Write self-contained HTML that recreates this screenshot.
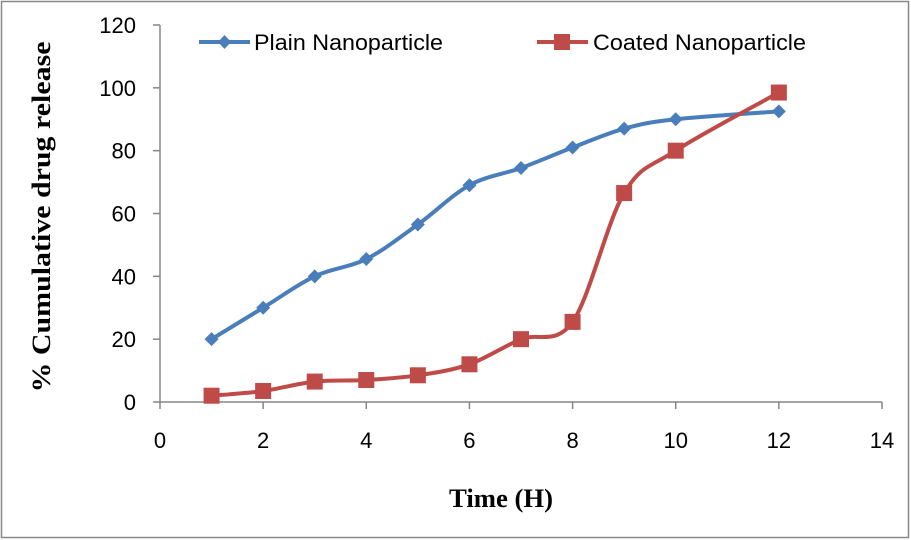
<!DOCTYPE html>
<html><head><meta charset="utf-8"><style>
body{margin:0;background:#fff;}
svg{display:block;font-family:"Liberation Sans",sans-serif;}
</style></head><body>
<svg id="chart" width="911" height="540">
<rect x="1.5" y="1.5" width="907" height="536" fill="#fff" stroke="#888" stroke-width="1.5"/>
<g id="axes"></g>
<g id="series"></g>
<text x="501" y="507" text-anchor="middle" font-family="Liberation Serif,serif" font-weight="bold" font-size="26" textLength="104" lengthAdjust="spacingAndGlyphs">Time (H)</text>
<text transform="translate(50,217) rotate(-90)" text-anchor="middle" font-family="Liberation Serif,serif" font-weight="bold" font-size="26" textLength="351" lengthAdjust="spacingAndGlyphs">% Cumulative drug release</text>
<g>
<line x1="199" y1="42" x2="250" y2="42" stroke="#4a7ebb" stroke-width="4"/>
<path d="M224.5 35 L231 42 L224.5 49 L218 42Z" fill="#4a7ebb"/>
<text x="254" y="50" font-size="22" textLength="189" lengthAdjust="spacingAndGlyphs" fill="#000">Plain Nanoparticle</text>
</g>
<g>
<line x1="537" y1="42" x2="588" y2="42" stroke="#be4b48" stroke-width="4"/>
<rect x="554" y="34" width="16" height="16" fill="#be4b48"/>
<text x="593" y="50" font-size="22" textLength="213" lengthAdjust="spacingAndGlyphs" fill="#000">Coated Nanoparticle</text>
</g>
</svg>
<script>
const xs=[1,2,3,4,5,6,7,8,9,10,12];
const plain=[20,30,40,45.5,56.5,69,74.5,81,87,90,92.5];
const coated=[2,3.5,6.5,7,8.5,12,20,25.5,66.5,80,98.5];
const xTicks=[0,2,4,6,8,10,12,14];
const yTicks=[0,20,40,60,80,100,120];
const NS="http://www.w3.org/2000/svg";
const X=v=>160+v*(722/14);
const Y=v=>402-v*(377/120);
function mk(t,a,p){const e=document.createElementNS(NS,t);for(const k in a)e.setAttribute(k,a[k]);p.appendChild(e);return e;}
const ax=document.getElementById('axes');
const xl=mk('line',{x1:X(0),y1:Y(0),x2:X(14),y2:Y(0),stroke:'#868686','stroke-width':1.5},ax);


const yl=mk('line',{x1:X(0),y1:Y(0),x2:X(0),y2:Y(120),stroke:'#868686','stroke-width':1.5},ax);


xTicks.forEach(v=>{
 mk('line',{x1:X(v),y1:Y(0),x2:X(v),y2:Y(0)+7,stroke:'#868686','stroke-width':1.5},ax);
 const t=mk('text',{x:X(v),y:448,'text-anchor':'middle','font-size':22},ax);t.textContent=v;
 
 
});
yTicks.forEach(v=>{
 mk('line',{x1:X(0)-7,y1:Y(v),x2:X(0),y2:Y(v),stroke:'#868686','stroke-width':1.5},ax);
 const t=mk('text',{x:136,y:Y(v)+8,'text-anchor':'end','font-size':22},ax);t.textContent=v;
 
 
});
function smooth(pts){let d=`M${pts[0][0]} ${pts[0][1]}`;for(let i=0;i<pts.length-1;i++){const p0=pts[i-1]||pts[i],p1=pts[i],p2=pts[i+1],p3=pts[i+2]||p2;const t=1/6;d+=` C${p1[0]+(p2[0]-p0[0])*t} ${p1[1]+(p2[1]-p0[1])*t} ${p2[0]-(p3[0]-p1[0])*t} ${p2[1]-(p3[1]-p1[1])*t} ${p2[0]} ${p2[1]}`;}return d;}
const sg=document.getElementById('series');
function series(vals,color,name,marker){
 const pts=xs.map((x,i)=>[X(x),Y(vals[i])]);
 const p=mk('path',{d:smooth(pts),fill:'none',stroke:color,'stroke-width':4},sg);
 
 
 pts.forEach(([x,y])=>{
  let m;
  if(marker==='d')m=mk('path',{d:`M${x} ${y-7}L${x+7} ${y}L${x} ${y+7}L${x-7} ${y}Z`,fill:color},sg);
  else m=mk('rect',{x:x-8,y:y-8,width:16,height:16,fill:color},sg);
  
  
 });
}
series(plain,'#4a7ebb','plain','d');
series(coated,'#be4b48','coated','s');
</script>
</body></html>
